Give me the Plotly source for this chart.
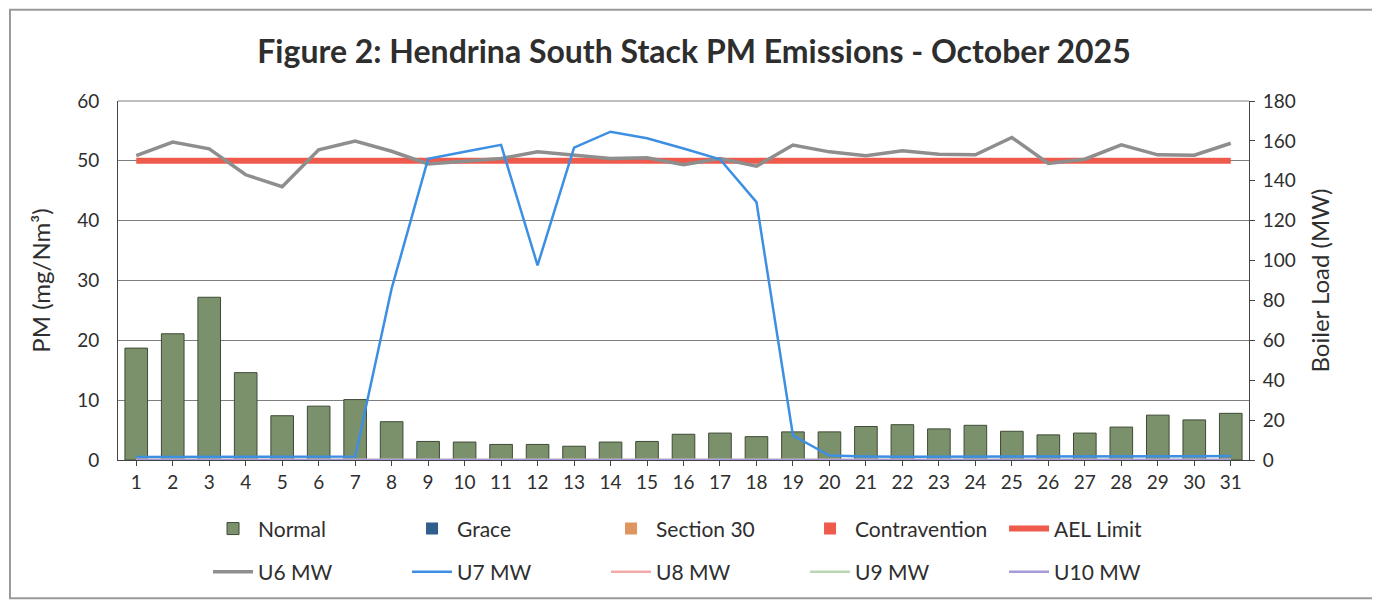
import plotly.graph_objects as go

days = [str(d) for d in range(1, 32)]

pm_normal = [18.7, 21.1, 27.2, 14.6, 7.4, 9.0, 10.1, 6.4, 3.1, 3.0, 2.6, 2.6, 2.3, 3.0, 3.1, 4.3,
             4.5, 3.9, 4.7, 4.7, 5.6, 5.9, 5.2, 5.8, 4.8, 4.2, 4.5, 5.5, 7.5, 6.7, 7.8]
pm_grace = [0, 0, 0, 0, 0, 0, 0, 0, 0, 0, 0, 0, 0, 0, 0, 0, 0, 0, 0, 0, 0, 0, 0, 0, 0, 0, 0, 0, 0, 0, 0]
pm_section30 = [0, 0, 0, 0, 0, 0, 0, 0, 0, 0, 0, 0, 0, 0, 0, 0, 0, 0, 0, 0, 0, 0, 0, 0, 0, 0, 0, 0, 0, 0, 0]
pm_contravention = [0, 0, 0, 0, 0, 0, 0, 0, 0, 0, 0, 0, 0, 0, 0, 0, 0, 0, 0, 0, 0, 0, 0, 0, 0, 0, 0, 0, 0, 0, 0]
ael_limit = [50, 50, 50, 50, 50, 50, 50, 50, 50, 50, 50, 50, 50, 50, 50, 50, 50, 50, 50, 50, 50, 50,
             50, 50, 50, 50, 50, 50, 50, 50, 50]

u6_mw = [152.6, 159.4, 156.0, 143.0, 137.0, 155.5, 159.9, 154.8, 148.4, 150.0, 151.2, 154.5,
         152.9, 151.2, 151.5, 148.0, 151.2, 147.3, 157.9, 154.5, 152.5, 155.0, 153.3, 153.0,
         161.7, 148.7, 150.8, 158.0, 153.0, 152.8, 158.8]
u7_mw = [1.5, 1.5, 1.5, 1.5, 1.5, 1.5, 1.7, 86.0, 151.0, 154.6, 158.0, 97.6, 156.6, 164.6,
         161.3, 156.2, 150.8, 129.3, 12.3, 2.2, 1.7, 1.6, 1.6, 1.6, 1.7, 1.7, 1.8, 1.8, 1.9, 1.9, 2.0]
u8_mw = [0, 0, 0, 0, 0, 0, 0, 0, 0, 0, 0, 0, 0, 0, 0, 0, 0, 0, 0, 0, 0, 0, 0, 0, 0, 0, 0, 0, 0, 0, 0]
u9_mw = [0, 0, 0, 0, 0, 0, 0, 0, 0, 0, 0, 0, 0, 0, 0, 0, 0, 0, 0, 0, 0, 0, 0, 0, 0, 0, 0, 0, 0, 0, 0]
u10_mw = [0, 0, 0, 0, 0, 0, 0, 0, 0, 0, 0, 0, 0, 0, 0, 0, 0, 0, 0, 0, 0, 0, 0, 0, 0, 0, 0, 0, 0, 0, 0]

left_ticks = [0, 10, 20, 30, 40, 50, 60]
right_ticks = [0, 20, 40, 60, 80, 100, 120, 140, 160, 180]

FONT = "Lato"
TXT = "#2e2e2e"

fig = go.Figure()

bar_line = dict(color="#3e4a36", width=1)
no_line = dict(width=0)
fig.add_trace(go.Bar(x=days, y=pm_normal, name="Normal", legend="legend",
                     marker=dict(color="#7b916b", line=bar_line), width=0.62))
fig.add_trace(go.Bar(x=days, y=pm_grace, name="Grace", legend="legend",
                     marker=dict(color="#2f5f8c", line=no_line), width=0.62))
fig.add_trace(go.Bar(x=days, y=pm_section30, name="Section 30", legend="legend",
                     marker=dict(color="#df9560", line=no_line), width=0.62))
fig.add_trace(go.Bar(x=days, y=pm_contravention, name="Contravention", legend="legend",
                     marker=dict(color="#ee5b4c", line=no_line), width=0.62))
fig.add_trace(go.Scatter(x=days, y=ael_limit, name="AEL Limit", mode="lines", legend="legend",
                         line=dict(color="#ee5b4c", width=6)))

fig.add_trace(go.Scatter(x=days, y=u6_mw, name="U6 MW", mode="lines", yaxis="y2", legend="legend2",
                         line=dict(color="#8e8e8e", width=3.5)))
fig.add_trace(go.Scatter(x=days, y=u7_mw, name="U7 MW", mode="lines", yaxis="y2", legend="legend2",
                         line=dict(color="#3c8fe3", width=2.5)))
fig.add_trace(go.Scatter(x=days, y=u8_mw, name="U8 MW", mode="lines", yaxis="y2", legend="legend2",
                         line=dict(color="#f4a9a9", width=2.5)))
fig.add_trace(go.Scatter(x=days, y=u9_mw, name="U9 MW", mode="lines", yaxis="y2", legend="legend2",
                         line=dict(color="#b9d7b3", width=2.5)))
fig.add_trace(go.Scatter(x=days, y=u10_mw, name="U10 MW", mode="lines", yaxis="y2", legend="legend2",
                         line=dict(color="#a69ad8", width=2.5)))

leg_common = dict(orientation="h", x=0.0796, xanchor="left", yanchor="middle",
                  entrywidth=144, entrywidthmode="pixels", traceorder="normal",
                  font=dict(size=21, family=FONT, color=TXT), itemwidth=40,
                  bgcolor="rgba(0,0,0,0)")

# page has an 8px body margin; figure is sized so the plot lands where the reference has it
fig.update_layout(
    width=1372, height=599,
    margin=dict(l=110, r=131, t=93, b=147),
    paper_bgcolor="white", plot_bgcolor="white",
    font=dict(family=FONT, color=TXT, size=19),
    title=dict(text="<b>Figure 2: Hendrina South Stack PM Emissions - October 2025</b>",
               x=0.5, xanchor="center", y=0.9265, yanchor="middle",
               font=dict(size=32, family=FONT, color=TXT)),
    barmode="overlay",
    showlegend=True,
    legend=dict(leg_common, y=-0.192),
    legend2=dict(leg_common, y=-0.312),
    xaxis=dict(type="category", range=[-0.5, 30.5], showgrid=False, showline=True,
               linecolor="#444", linewidth=1, ticks="outside", ticklen=5, tickcolor="#444",
               tickfont=dict(size=19)),
    yaxis=dict(range=[0, 60], tickvals=left_ticks, showgrid=True, gridcolor="#7f7f7f",
               gridwidth=1, showline=True, linecolor="#444", linewidth=1, zeroline=False,
               ticks="", tickfont=dict(size=19), ticklabelstandoff=14,
               title=dict(text="PM (mg/Nm³)", font=dict(size=24), standoff=19)),
    yaxis2=dict(range=[0, 180], tickvals=right_ticks, overlaying="y", side="right",
                showgrid=False, showline=True, linecolor="#444", linewidth=1, zeroline=False,
                ticks="outside", ticklen=5, tickcolor="#444", tickfont=dict(size=19),
                ticklabelstandoff=4,
                title=dict(text="Boiler Load (MW)", font=dict(size=24), standoff=17)),
)

# plot-area top border and outer frame
fig.add_shape(type="line", xref="paper", yref="paper", x0=0, x1=1, y0=1, y1=1,
              line=dict(color="#7f7f7f", width=1))
fig.add_shape(type="rect", xref="paper", yref="paper", x0=-0.0955, x1=1.1105, y0=-0.385, y1=1.254,
              line=dict(color="#9a9a9a", width=2))

fig.write_html("out.html")
